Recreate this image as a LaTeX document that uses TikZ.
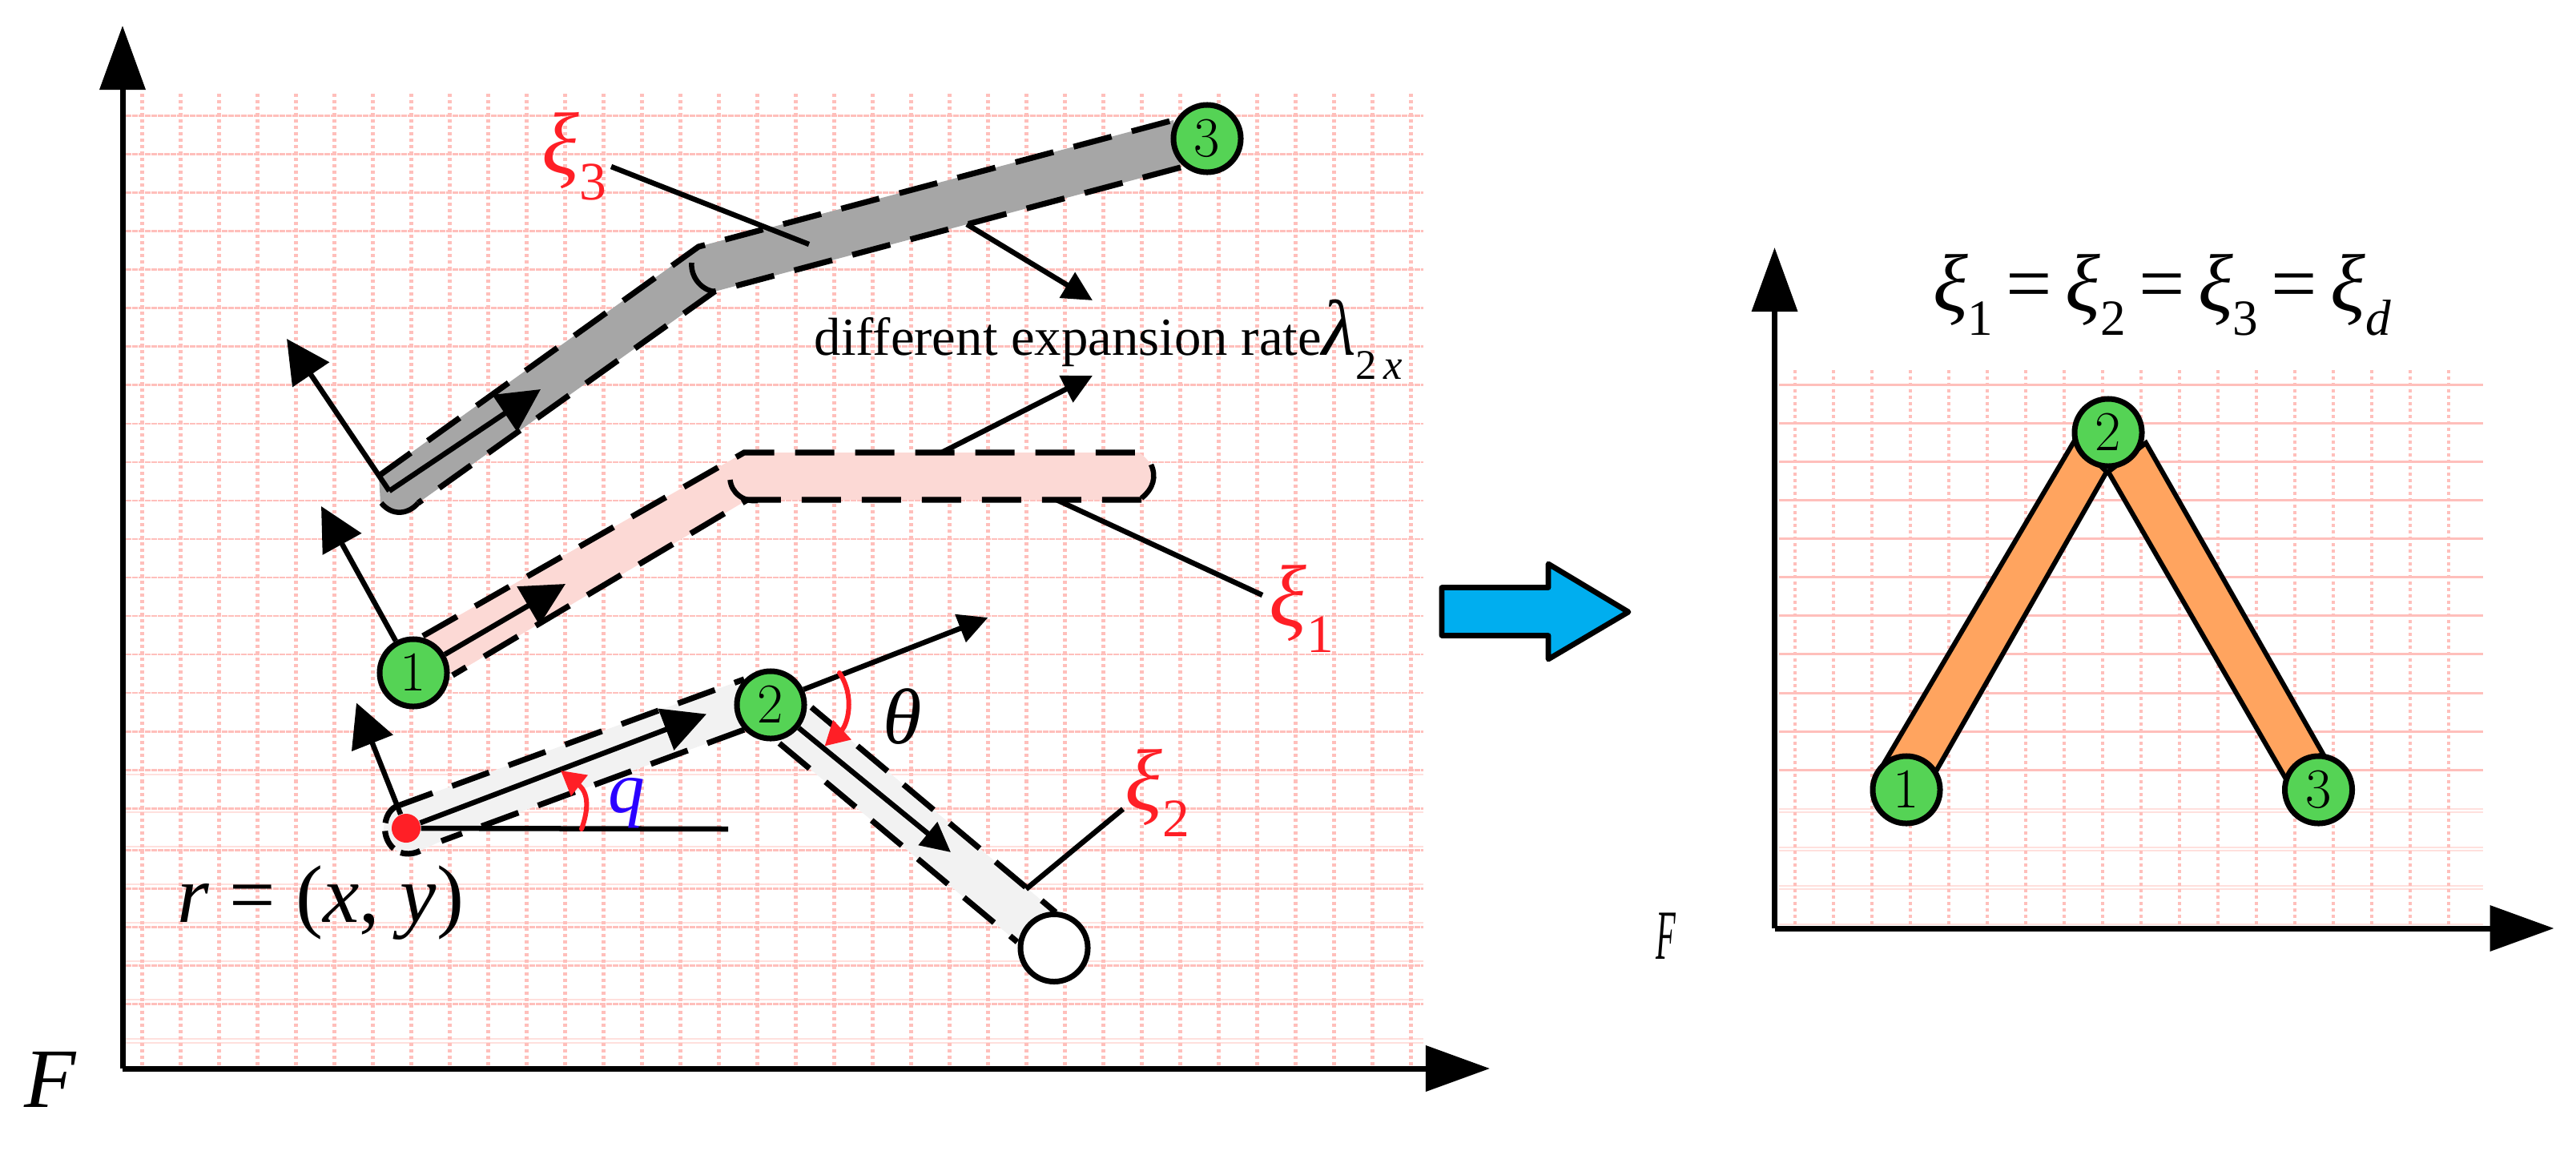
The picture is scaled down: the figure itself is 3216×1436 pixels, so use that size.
\documentclass[tikz,border=0pt]{standalone}
\usepackage{fix-cm}
\usepackage[no-math]{fontspec}
\setmainfont{Liberation Serif}
\usetikzlibrary{arrows.meta}
\definecolor{gridpink}{HTML}{FFBFBB}
\definecolor{gridpale}{HTML}{FFE0DD}
\definecolor{labelred}{HTML}{FF1F26}
\definecolor{labelblue}{HTML}{2A00FF}
\definecolor{jointgreen}{HTML}{55D355}
\definecolor{linkgray}{HTML}{A6A6A6}
\definecolor{linkpink}{HTML}{FCD9D5}
\definecolor{linklight}{HTML}{F2F2F2}
\definecolor{linkorange}{HTML}{FFA45F}
\definecolor{arrowblue}{HTML}{00AEEF}
\newcommand{\subx}[1]{\raisebox{-.3em}{\scalebox{.62}{#1}}}
\newcommand{\xisym}{\textit{ξ}}
\tikzset{
  gridline/.style={gridpink,line width=.26mm,dash pattern=on .7mm off .1mm},
  gridsolid/.style={gridpink,line width=.3mm},
  gridfaint/.style={gridpale,line width=.2mm},
  griddot/.style={gridpink,line width=.42mm,dash pattern=on .4mm off .4mm},
  bandedge/.style={line width=.72mm,dash pattern=on 4.9mm off 2.6mm},
  plainline/.style={line width=.65mm},
  axis/.style={line width=.7mm,-{Triangle[length=8mm,width=5.6mm]}},
  bigtip/.style={line width=.65mm,-{Triangle[length=5.4mm,width=5.4mm]}},
  midtip/.style={line width=.65mm,-{Triangle[length=3.7mm,width=3.6mm]}},
  redarc/.style={labelred,line width=.6mm,line cap=round,-{Triangle[length=3mm,width=3.2mm]}},
  joint/.style={circle,draw,line width=.7mm,fill=jointgreen,minimum size=8.4mm,inner sep=0pt,font=\fontsize{20}{24}\selectfont},
  xilabel/.style={text=labelred,inner sep=0pt,font=\fontsize{31}{37}\selectfont},
  mathlabel/.style={inner sep=0pt,font=\fontsize{28}{34}\selectfont}
}
\begin{document}
\begin{tikzpicture}[x=.01cm,y=-.01cm]
\useasboundingbox (0,0) rectangle (3216,1436);
% left grid
\foreach \n in {0,...,18} \draw[gridline] (157,{144.4+48.05*\n}) -- (1777,{144.4+48.05*\n});
\foreach \y in {1061.7,1109.7,1157.7,1205.7,1253.7} \draw[gridline] (157,\y) -- (1777,\y);
\foreach \y in {966.7,1014,1056.7,1104,1152,1200,1248,1296.7,1302} \draw[gridfaint] (157,\y) -- (1777,\y);
\foreach \n in {0,...,33} \draw[griddot] ({177.5+48*\n},117) -- ({177.5+48*\n},1330);
% right grid
\foreach \n in {0,...,10} \draw[gridsolid] (2221,{480.6+48.05*\n}) -- (3100,{480.6+48.05*\n});
\foreach \y in {1009.7,1013.5,1057.6,1061.8,1105.5,1110,1154} \draw[gridfaint] (2221,\y) -- (3100,\y);
\foreach \n in {0,...,17} \draw[griddot] ({2241+48*\n},462) -- ({2241+48*\n},1154);
% axes
\coordinate (ytop) at (153,32);
\coordinate (origin) at (153,1334);
\coordinate (xend) at (1860,1334);
\draw[axis] (origin) -- (ytop);
\draw[axis] (origin) -- (xend);
\coordinate (ytopb) at (2215.5,309);
\coordinate (originb) at (2215.5,1159);
\coordinate (xendb) at (3188.5,1159);
\draw[axis] (originb) -- (ytopb);
\draw[axis] (originb) -- (xendb);
% gray link
\fill[linkgray] (473,594) -- (872,308) -- (1465,150) -- (1474,209) -- (892,364) -- (522,628) .. controls (510,642) and (482,642) .. (475,628) -- cycle;
\draw[bandedge] (473,594) -- (872,308) -- (1465,150);
\draw[bandedge] (1474,209) -- (892,364) -- (522,628);
\draw[plainline] (476,628) .. controls (490,645) and (510,642) .. (522,628);
\draw[plainline] (863.5,328) .. controls (862,345) and (875,362) .. (892,364);
% pink link
\fill[linkpink] (528,794) -- (929,565) -- (1422,565) .. controls (1445,580) and (1445,605) .. (1425,624) -- (933,624) -- (565,843) -- cycle;
\draw[bandedge] (528,794) -- (929,565) -- (1422,565);
\draw[bandedge] (1425,624) -- (933,624) -- (565,843);
\draw[plainline] (1437,580) .. controls (1444,595) and (1440,610) .. (1425,622);
\draw[plainline] (911.5,599) .. controls (913,615) and (928,627) .. (946,625);
% light links
\fill[linklight] (494,1007) -- (929,848) -- (929,911) -- (551,1050) -- (525,1062) .. controls (505,1072) and (479,1060) .. (479,1036) .. controls (479,1024) and (485,1012) .. (494,1007) -- cycle;
\draw[bandedge] (494,1007) -- (929,848);
\draw[bandedge] (929,911) -- (551,1050);
\draw[bandedge,dash pattern=on 2.5mm off 1mm] (494,1007) .. controls (485,1012) and (479,1024) .. (481,1040) .. controls (485,1062) and (505,1072) .. (525,1062);
\fill[linklight] (1013,883) -- (1318,1139) -- (1270,1176) -- (973,928) -- cycle;
\draw[bandedge] (1013,883) -- (1318,1139);
\draw[bandedge] (973,928) -- (1270,1176);
% right links
\filldraw[fill=linkorange,line width=.6mm] (2352,953) -- (2590,550) -- (2630,589) -- (2414,968) -- cycle;
\filldraw[fill=linkorange,line width=.6mm] (2679,553) -- (2900,941) -- (2853,971) -- (2632,589) -- cycle;
% joints
\node[joint] (jointc) at (1507,173) {$3$};
\node[joint] (jointa) at (516,840) {$1$};
\node[joint] (jointb) at (962,880) {$2$};
\node[joint,fill=white] (endb) at (1316,1183.5) {};
\node[circle,fill=labelred,minimum size=3.6mm,inner sep=0pt] (base) at (507,1034) {};
\node[joint] (jointar) at (2380,986) {$1$};
\node[joint] (jointbr) at (2632,540) {$2$};
\node[joint] (jointcr) at (2894.5,986) {$3$};
% gray link arrows
\coordinate (gstart) at (486,613);
\coordinate (gnormal) at (358,423);
\coordinate (gtang) at (675,486);
\draw[bigtip] (gstart) -- (gnormal);
\draw[bigtip] (gstart) -- (gtang);
% pink link arrows
\coordinate (pnormal) at (401,632);
\coordinate (ptang) at (706,729);
\draw[bigtip] (jointa) -- (pnormal);
\draw[bigtip] (jointa) -- (ptang);
% light link arrows
\coordinate (lnormal) at (445,877.5);
\coordinate (ltang) at (882,891.5);
\coordinate (lflat) at (909,1035);
\coordinate (lext) at (1233.5,771);
\coordinate (ltangb) at (1187,1064);
\draw[bigtip] (base) -- (lnormal);
\draw[bigtip] (base) -- (ltang);
\draw[plainline] (base) -- (lflat);
\draw[midtip] (jointb.25) -- (lext);
\draw[midtip] (jointb) -- (ltangb);
% red angle arcs
\coordinate (qstart) at (726,1035);
\coordinate (qtip) at (700,962);
\coordinate (thstart) at (1048,840);
\coordinate (thtip) at (1029.5,931.5);
\draw[redarc] (qstart) .. controls (735,1010) and (735,990) .. (qtip);
\draw[redarc] (thstart) .. controls (1068,870) and (1058,905) .. (thtip);
% expansion arrows
\coordinate (grate) at (1207,280);
\coordinate (gratetip) at (1364,375);
\coordinate (prate) at (1175.5,565);
\coordinate (pratetip) at (1364,469);
\draw[midtip] (grate) -- (gratetip);
\draw[midtip] (prate) -- (pratetip);
% labels and leaders
\node[xilabel] (xic) at (717,195) {\xisym\subx{3}};
\node[xilabel] (xia) at (1625,760) {\xisym\subx{1}};
\node[xilabel] (xib) at (1445,990) {\xisym\subx{2}};
\coordinate (xicfoot) at (1010,305);
\coordinate (xiafoot) at (1319,624);
\coordinate (xibfoot) at (1281,1110);
\coordinate (xichead) at (763,208);
\coordinate (xiahead) at (1576,743);
\coordinate (xibhead) at (1402,1010);
\draw[plainline] (xichead) -- (xicfoot);
\draw[plainline] (xiahead) -- (xiafoot);
\draw[plainline] (xibhead) -- (xibfoot);
\node[inner sep=0pt,font=\fontsize{19}{23}\selectfont] (rate) at (1384,424) {different expansion rate\fontsize{28}{34}\selectfont\textit{λ}\raisebox{-.3em}{\fontsize{15}{18}\selectfont 2\,\textit{x}}};
\node[mathlabel,font=\fontsize{29}{35}\selectfont] (pos) at (400,1127) {\textit{r} = (\textit{x}, \textit{y})};
\node[mathlabel,font=\fontsize{26}{31}\selectfont,text=labelblue] (qlabel) at (782,1003) {\textit{q}};
\node[mathlabel] (thlabel) at (1127,895) {\textit{θ}};
\node[mathlabel,font=\fontsize{30}{36}\selectfont] (fa) at (63,1348) {\textit{F}};
\node[mathlabel,font=\fontsize{25}{30}\selectfont] (fb) at (2080,1169) {\scalebox{.46}[1]{\textit{F}}};
\node[mathlabel,font=\fontsize{29}{35}\selectfont] (equal) at (2699,368) {\spaceskip=.16em\xisym\subx{1} = \xisym\subx{2} = \xisym\subx{3} = \xisym\subx{\textit{d}}};
% transition arrow
\filldraw[fill=arrowblue,line width=.67mm,line join=round] (1800,733.5) -- (1933,733.5) -- (1933,704) -- (2033,764) -- (1933,823) -- (1933,793.5) -- (1800,793.5) -- cycle;
\end{tikzpicture}
\end{document}
